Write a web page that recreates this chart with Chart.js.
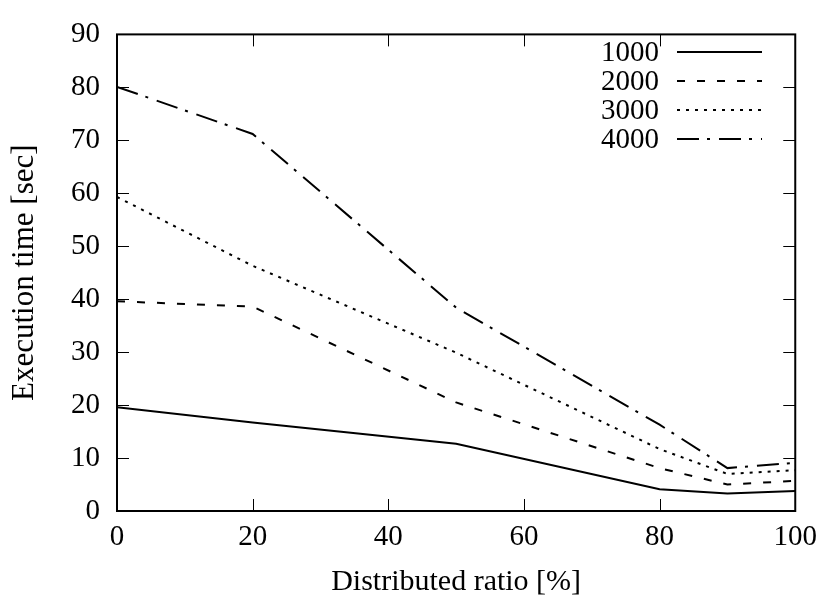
<!DOCTYPE html>
<html>
<head>
<meta charset="utf-8">
<script src="https://cdn.jsdelivr.net/npm/chart.js@4.4.1/dist/chart.umd.min.js"></script>
<style>
html,body{margin:0;padding:0;background:#fff;}
#wrap{width:826px;height:597px;}
</style>
</head>
<body>
<div id="wrap"><canvas id="c" width="826" height="597"></canvas></div>
<script>
const ratios = [0, 20, 50, 80, 90, 100];
const series1000 = [19.6, 16.7, 12.7, 4.1, 3.3, 3.8];
const series2000 = [39.6, 38.6, 20.5, 8.1, 5.0, 5.7];
const series3000 = [59.3, 46.3, 29.9, 11.7, 7.0, 7.7];
const series4000 = [80.1, 71.2, 38.4, 16.3, 8.1, 9.1];
const seriesNames = ['1000', '2000', '3000', '4000'];
const xTicks = [0, 20, 40, 60, 80, 100];
const yTicks = [0, 10, 20, 30, 40, 50, 60, 70, 80, 90];
const xTitle = 'Distributed ratio [%]';
const yTitle = 'Execution time [sec]';

const FONT = "'Liberation Serif', 'Times New Roman', serif";
const FS = 29;
const dashes = [[], [8, 12], [3, 6], [22, 8, 3, 9]];
const allSeries = [series1000, series2000, series3000, series4000];

const datasets = allSeries.map((s, i) => ({
  label: seriesNames[i],
  data: ratios.map((x, j) => ({x: x, y: s[j]})),
  borderColor: '#000',
  backgroundColor: '#000',
  borderWidth: 2,
  borderDash: dashes[i],
  pointRadius: 0,
  tension: 0,
  fill: false
}));

const framePlugin = {
  id: 'frame',
  afterDraw(chart) {
    const ctx = chart.ctx;
    const a = chart.chartArea;
    const xs = chart.scales.x, ys = chart.scales.y;
    ctx.save();
    ctx.strokeStyle = '#000';
    ctx.lineWidth = 1;
    const tl = 12;
    ctx.beginPath();
    xTicks.forEach(v => {
      const px = Math.round(xs.getPixelForValue(v)) + 0.5;
      ctx.moveTo(px, a.bottom); ctx.lineTo(px, a.bottom - tl);
      ctx.moveTo(px, a.top); ctx.lineTo(px, a.top + tl);
    });
    yTicks.forEach(v => {
      const py = Math.round(ys.getPixelForValue(v)) + 0.5;
      ctx.moveTo(a.left, py); ctx.lineTo(a.left + tl, py);
      ctx.moveTo(a.right, py); ctx.lineTo(a.right - tl, py);
    });
    ctx.stroke();
    ctx.lineWidth = 2;
    ctx.strokeRect(a.left, a.top, a.right - a.left, a.bottom - a.top);
    // legend
    ctx.font = FS + 'px ' + FONT;
    ctx.fillStyle = '#000';
    ctx.textAlign = 'right';
    ctx.textBaseline = 'middle';
    const rowY = [52, 81, 110, 139];
    chart.data.datasets.forEach((ds, i) => {
      const y = rowY[i];
      ctx.fillText(ds.label, 659, y + 1);
      ctx.beginPath();
      ctx.setLineDash(ds.borderDash);
      ctx.lineWidth = ds.borderWidth;
      ctx.moveTo(677, y); ctx.lineTo(762, y);
      ctx.stroke();
    });
    ctx.setLineDash([]);
    ctx.restore();
  }
};

new Chart(document.getElementById('c'), {
  type: 'line',
  data: { datasets: datasets },
  options: {
    responsive: false,
    animation: false,
    events: [],
    layout: { padding: { top: 24, right: 29, left: 0, bottom: 0 } },
    plugins: { legend: { display: false }, tooltip: { enabled: false } },
    scales: {
      x: {
        type: 'linear',
        min: 0, max: 100,
        afterFit(s) { s.height = 86; },
        afterBuildTicks(s) { s.ticks = xTicks.map(v => ({value: v})); },
        grid: { display: false, drawTicks: false },
        border: { display: false },
        ticks: { color: '#000', font: { family: FONT, size: FS }, padding: 9, maxRotation: 0 },
        title: { display: true, text: xTitle, color: '#000', font: { family: FONT, size: 30 }, padding: { top: 0, bottom: -3 } }
      },
      y: {
        type: 'linear',
        min: 0, max: 90,
        afterFit(s) { s.width = 117; },
        afterBuildTicks(s) { s.ticks = yTicks.map(v => ({value: v})); },
        grid: { display: false, drawTicks: false },
        border: { display: false },
        ticks: { color: '#000', font: { family: FONT, size: FS }, padding: 17 },
        title: { display: true, text: yTitle, color: '#000', font: { family: FONT, size: 31 }, padding: { top: 6, bottom: 0 } }
      }
    }
  },
  plugins: [framePlugin]
});
</script>
</body>
</html>
